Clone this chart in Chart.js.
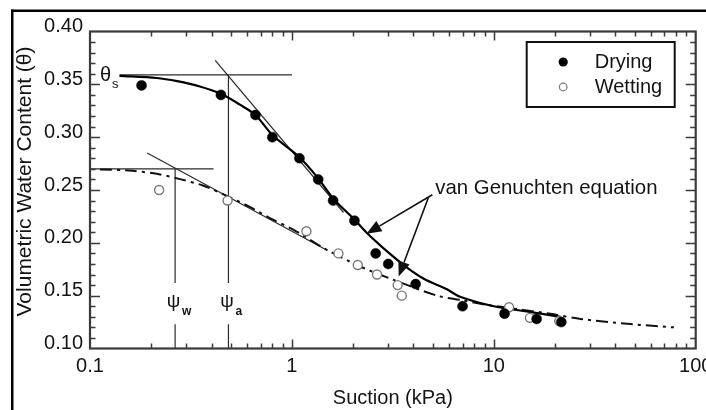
<!DOCTYPE html>
<html>
<head>
<meta charset="utf-8">
<title>Soil water characteristic curve</title>
<script src="https://cdn.jsdelivr.net/npm/chart.js@4.4.0/dist/chart.umd.min.js"></script>
<style>
  html, body { margin: 0; padding: 0; background: #fff; }
  #wrap { position: relative; width: 706px; height: 410px; overflow: hidden; }
</style>
</head>
<body>
<div id="wrap"><canvas id="swcc" width="706" height="410"></canvas></div>
<script>
// measured points (suction in kPa, volumetric water content)
const dryingSuction = [0.18, 0.445, 0.66, 0.80, 1.09, 1.35, 1.60, 2.04, 2.6, 3.0, 4.1, 7.0, 11.3, 16.3, 21.6];
const dryingTheta   = [0.349, 0.340, 0.321, 0.300, 0.280, 0.260, 0.240, 0.221, 0.190, 0.180, 0.161, 0.140, 0.133, 0.128, 0.125];
const wettingSuction = [0.22, 0.48, 1.18, 1.70, 2.12, 2.64, 3.34, 3.5, 11.9, 15.1, 21.1];
const wettingTheta   = [0.250, 0.240, 0.211, 0.190, 0.179, 0.170, 0.160, 0.150, 0.139, 0.129, 0.126];

// fitted van Genuchten curves
const dryFitSuction = [0.14, 0.214, 0.27, 0.35, 0.445, 0.55, 0.66, 0.80, 1.09, 1.35, 1.60, 2.04, 2.36, 2.8, 3.58, 4.5, 5.86, 6.8, 10, 14.6, 21.4];
const dryFitTheta   = [0.358, 0.356, 0.353, 0.348, 0.341, 0.331, 0.321, 0.302, 0.281, 0.261, 0.242, 0.222, 0.209, 0.196, 0.179, 0.166, 0.156, 0.149, 0.140, 0.135, 0.130];
const wetFitSuction = [0.112, 0.155, 0.214, 0.279, 0.365, 0.482, 0.621, 0.796, 1.02, 1.49, 2.18, 3.19, 5.24, 6.82, 9.27, 13.05, 19.1, 26.9, 47.5, 78];
const wetFitTheta   = [0.2695, 0.2685, 0.2653, 0.2603, 0.254, 0.2439, 0.2338, 0.2225, 0.2123, 0.1934, 0.1776, 0.165, 0.150, 0.146, 0.1413, 0.1373, 0.1328, 0.128, 0.1231, 0.120];

// construction lines
const thetaS = 0.359, thetaW = 0.270;
const psiA = 0.485, psiW = 0.264;
const thetaSLineX = [0.14, 1.0];
const thetaWLineX = [0.1, 0.409];
const dryTangentX = [0.417, 1.8],  dryTangentY = [0.3726, 0.2287];
const wetTangentX = [0.192, 1.5],  wetTangentY = [0.285, 0.1928];
const labelGap = [0.162, 0.123];   // vertical lines break around the psi labels

// axis ticks
const xTickValues = [0.1, 1, 10, 100];
const xTickLabels = ['0.1', '1', '10', '100'];
const yTickValues = [0.10, 0.15, 0.20, 0.25, 0.30, 0.35, 0.40];

// annotation anchors
const vgTextAt = [5.13, 0.2464];
const vgArrows = [[[4.96, 0.2455], [2.34, 0.2086]], [[4.74, 0.2426], [3.38, 0.1681]]];

const FONT = "'Liberation Sans', Arial, sans-serif";
const TXT = '#141414';

const pts = (xs, ys) => xs.map((x, i) => ({ x: x, y: ys[i] }));
const hline = (xs, v) => xs.map(x => ({ x: x, y: v }));

function lineSet(data, extra) {
  return Object.assign({
    data: data, showLine: true, pointRadius: 0, borderColor: '#2a2a2a',
    borderWidth: 1.2, fill: false, order: 2
  }, extra || {});
}

const decorations = {
  id: 'decorations',
  afterDatasetsDraw(chart) {
    const { ctx, scales: { x, y } } = chart;
    ctx.save();
    ctx.fillStyle = TXT;
    // theta_s
    ctx.font = '20px ' + FONT;
    ctx.textAlign = 'left';
    ctx.textBaseline = 'alphabetic';
    const tx = x.getPixelForValue(0.1121), ty = y.getPixelForValue(0.3533);
    ctx.fillText('θ', tx, ty);
    ctx.font = '13px ' + FONT;
    ctx.fillText('s', tx + 12, ty + 7);
    // psi labels
    [[psiW, 'w'], [psiA, 'a']].forEach(([p, sub]) => {
      const px = x.getPixelForValue(p) - 1.5, py = y.getPixelForValue(0.1442);
      ctx.font = '19px ' + FONT;
      ctx.textAlign = 'center';
      ctx.textBaseline = 'middle';
      ctx.fillText('ψ', px, py);
      ctx.font = 'bold 12px ' + FONT;
      ctx.textAlign = 'left';
      ctx.fillText(sub, px + 8.5, py + 10);
    });
    // van Genuchten label + arrows
    ctx.font = '20.4px ' + FONT;
    ctx.textAlign = 'left';
    ctx.textBaseline = 'alphabetic';
    ctx.fillText('van Genuchten equation', x.getPixelForValue(vgTextAt[0]), y.getPixelForValue(vgTextAt[1]));
    ctx.strokeStyle = '#111';
    ctx.fillStyle = '#111';
    ctx.lineWidth = 1.6;
    vgArrows.forEach(([from, to]) => {
      const x0 = x.getPixelForValue(from[0]), y0 = y.getPixelForValue(from[1]);
      const x1 = x.getPixelForValue(to[0]), y1 = y.getPixelForValue(to[1]);
      const ang = Math.atan2(y1 - y0, x1 - x0);
      const hl = 15, hw = 6;
      const bx = x1 - hl * Math.cos(ang), by = y1 - hl * Math.sin(ang);
      ctx.beginPath();
      ctx.moveTo(x0, y0);
      ctx.lineTo(bx, by);
      ctx.stroke();
      ctx.beginPath();
      ctx.moveTo(x1, y1);
      ctx.lineTo(bx + hw * Math.sin(ang), by - hw * Math.cos(ang));
      ctx.lineTo(bx - hw * Math.sin(ang), by + hw * Math.cos(ang));
      ctx.closePath();
      ctx.fill();
    });
    ctx.restore();
  },
  afterDraw(chart) {
    const { ctx, chartArea: a, scales: { x, y } } = chart;
    ctx.save();
    // page frame (top and left edges only)
    ctx.fillStyle = '#000';
    ctx.fillRect(11, 9.5, 700, 2.5);
    ctx.fillRect(11, 9.5, 2.5, 410);
    // y axis title
    ctx.save();
    ctx.translate(25, 181.5);
    ctx.rotate(-Math.PI / 2);
    ctx.fillStyle = TXT;
    ctx.font = '21px ' + FONT;
    ctx.textAlign = 'center';
    ctx.textBaseline = 'middle';
    ctx.fillText('Volumetric Water Content (θ)', 0, 0);
    ctx.restore();
    // plot frame
    ctx.strokeStyle = '#3a3a3a';
    ctx.lineWidth = 2.2;
    ctx.strokeRect(a.left, a.top, a.right - a.left, a.bottom - a.top);
    // inward ticks on all four sides
    ctx.lineWidth = 1.5;
    ctx.beginPath();
    for (let i = 1; i < 30; i++) {
      const py = Math.round(y.getPixelForValue(0.10 + i * 0.01)) + 0.5;
      const len = i % 5 === 0 ? 10 : 5.5;
      ctx.moveTo(a.left, py); ctx.lineTo(a.left + len, py);
      ctx.moveTo(a.right, py); ctx.lineTo(a.right - len, py);
    }
    [0.1, 1, 10].forEach(dec => {
      for (let m = 1; m <= 9; m++) {
        const v = dec * m;
        if (v <= 0.1) continue;
        const px = Math.round(x.getPixelForValue(v)) + 0.5;
        const len = m === 1 ? 9 : 5;
        ctx.moveTo(px, a.bottom); ctx.lineTo(px, a.bottom - len);
        ctx.moveTo(px, a.top); ctx.lineTo(px, a.top + len);
      }
    });
    ctx.stroke();
    // legend
    const lx = a.right - 169, ly = a.top + 10.5;
    ctx.strokeStyle = '#111';
    ctx.lineWidth = 2;
    ctx.strokeRect(lx, ly, 148, 65);
    ctx.fillStyle = '#000';
    ctx.beginPath();
    ctx.arc(lx + 36.5, ly + 20, 4.6, 0, Math.PI * 2);
    ctx.fill();
    ctx.fillStyle = '#fff';
    ctx.strokeStyle = '#777';
    ctx.lineWidth = 1.2;
    ctx.beginPath();
    ctx.arc(lx + 36.5, ly + 45, 3.8, 0, Math.PI * 2);
    ctx.fill();
    ctx.stroke();
    ctx.fillStyle = TXT;
    ctx.font = '20px ' + FONT;
    ctx.textAlign = 'left';
    ctx.textBaseline = 'middle';
    ctx.fillText('Drying', lx + 68, ly + 20);
    ctx.fillText('Wetting', lx + 68, ly + 45);
    ctx.restore();
  }
};

new Chart(document.getElementById('swcc'), {
  type: 'scatter',
  data: {
    datasets: [
      { label: 'Drying', data: pts(dryingSuction, dryingTheta), pointRadius: 5, pointBackgroundColor: '#000',
        pointBorderColor: '#000', pointBorderWidth: 0.5, order: 0 },
      { label: 'Wetting', data: pts(wettingSuction, wettingTheta), pointRadius: 4.5, pointBackgroundColor: '#fff',
        pointBorderColor: '#7a7a7a', pointBorderWidth: 1.4, order: 0 },
      lineSet(pts(dryFitSuction, dryFitTheta), { borderColor: '#000', borderWidth: 2.2, order: 1, tension: 0.3 }),
      lineSet(pts(wetFitSuction, wetFitTheta), { borderColor: '#111', borderWidth: 2, borderDash: [12, 5, 3, 5], order: 1, tension: 0.3 }),
      lineSet(hline(thetaSLineX, thetaS)),
      lineSet(hline(thetaWLineX, thetaW)),
      lineSet(pts(dryTangentX, dryTangentY)),
      lineSet(pts(wetTangentX, wetTangentY)),
      lineSet([{ x: psiA, y: thetaS }, { x: psiA, y: labelGap[0] }]),
      lineSet([{ x: psiA, y: labelGap[1] }, { x: psiA, y: 0.10 }]),
      lineSet([{ x: psiW, y: thetaW }, { x: psiW, y: labelGap[0] }]),
      lineSet([{ x: psiW, y: labelGap[1] }, { x: psiW, y: 0.10 }])
    ]
  },
  options: {
    responsive: false,
    animation: false,
    devicePixelRatio: 1,
    layout: { padding: { top: 31.5, right: 10.3, left: 0, bottom: 0 } },
    plugins: { legend: { display: false }, tooltip: { enabled: false } },
    scales: {
      x: {
        type: 'logarithmic', min: 0.1, max: 100,
        grid: { display: false, drawTicks: false }, border: { display: false },
        afterBuildTicks: s => { s.ticks = xTickValues.map(v => ({ value: v })); },
        afterFit: s => { s.height = 61.5; s.paddingLeft = 0; s.paddingRight = 0; },
        ticks: { autoSkip: false, maxRotation: 0, padding: 6, color: TXT, font: { family: FONT, size: 20 },
                 callback: (v, i) => xTickLabels[i] },
        title: { display: true, text: 'Suction (kPa)', color: TXT, font: { family: FONT, size: 20 }, padding: { top: 0, bottom: 0 } }
      },
      y: {
        min: 0.10, max: 0.40,
        grid: { display: false, drawTicks: false }, border: { display: false },
        afterBuildTicks: s => { s.ticks = yTickValues.map(v => ({ value: v })); },
        afterFit: s => { s.width = 90; s.paddingTop = 0; s.paddingBottom = 0; },
        ticks: { padding: 7, labelOffset: -5, color: TXT, font: { family: FONT, size: 20 },
                 callback: v => v.toFixed(2) },
        title: { display: false }
      }
    }
  },
  plugins: [decorations]
});
</script>
</body>
</html>
